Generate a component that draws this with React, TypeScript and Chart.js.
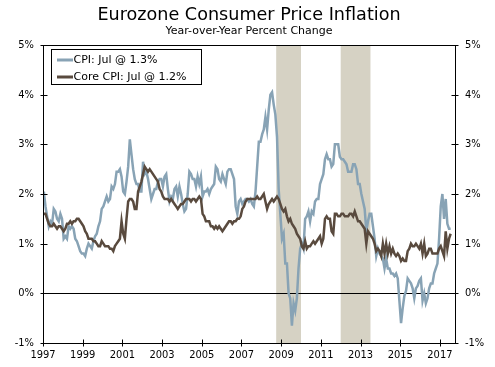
import { useEffect, useRef } from "react";
import { Chart, registerables } from "chart.js";

Chart.register(...registerables);

const TITLE = "Eurozone Consumer Price Inflation";
const SUBTITLE = "Year-over-Year Percent Change";
const CPI_LABEL = "CPI: Jul @ 1.3%";
const CORE_LABEL = "Core CPI: Jul @ 1.2%";

// monthly data, Jan 1997 .. Jul 2017
const START_YEAR = 1997;
const CPI = [
  2.05, 1.75, 1.55, 1.35, 1.45, 1.4, 1.7, 1.65, 1.5, 1.45, 1.6, 1.5,
  1.1, 1.15, 1.1, 1.35, 1.3, 1.35, 1.3, 1.1, 1.05, 0.95, 0.85, 0.8,
  0.8, 0.75, 0.9, 1.0, 0.95, 0.9, 1.05, 1.15, 1.2, 1.35, 1.45, 1.7,
  1.75, 1.85, 1.95, 1.85, 1.9, 2.15, 2.1, 2.2, 2.45, 2.45, 2.5, 2.35,
  2.05, 2.0, 2.25, 2.55, 3.1, 2.8, 2.5, 2.3, 2.2, 2.2, 2.05, 2.05,
  2.65, 2.4, 2.45, 2.3, 2.1, 1.9, 2.0, 2.1, 2.1, 2.25, 2.3, 2.3,
  2.15, 2.35, 2.4, 2.1, 1.85, 1.95, 1.9, 2.1, 2.15, 1.95, 2.15, 2.0,
  1.8, 1.65, 1.7, 2.0, 2.45, 2.4, 2.3, 2.3, 2.15, 2.35, 2.2, 2.35,
  1.95, 2.05, 2.05, 2.1, 2.0, 2.1, 2.15, 2.2, 2.55, 2.5, 2.3, 2.25,
  2.4, 2.3, 2.2, 2.45, 2.5, 2.5, 2.4, 2.3, 1.75, 1.6, 1.85, 1.9,
  1.8, 1.85, 1.9, 1.9, 1.85, 1.9, 1.8, 1.75, 2.05, 2.55, 3.05, 3.05,
  3.2, 3.3, 3.55, 3.3, 3.7, 4.0, 4.05, 3.8, 3.6, 3.15, 2.1, 1.6,
  1.1, 1.2, 0.6, 0.6, 0.0, -0.1, -0.65, -0.2, -0.35, -0.1, 0.5, 0.9,
  1.0, 0.9, 1.5, 1.55, 1.65, 1.45, 1.65, 1.6, 1.85, 1.9, 1.9, 2.2,
  2.3, 2.4, 2.7, 2.8, 2.7, 2.7, 2.55, 2.6, 3.0, 3.0, 3.0, 2.75,
  2.7, 2.7, 2.65, 2.6, 2.45, 2.45, 2.45, 2.6, 2.6, 2.5, 2.2, 2.2,
  2.0, 1.85, 1.7, 1.25, 1.45, 1.6, 1.6, 1.35, 1.1, 0.75, 0.9, 0.8,
  0.75, 0.7, 0.5, 0.7, 0.5, 0.5, 0.4, 0.4, 0.35, 0.4, 0.3, -0.15,
  -0.6, -0.3, -0.05, 0.05, 0.3, 0.25, 0.2, 0.1, -0.1, 0.1, 0.15, 0.25,
  0.3, -0.15, 0.0, -0.2, -0.1, 0.1, 0.2, 0.2, 0.4, 0.5, 0.6, 1.1,
  1.75, 2.0, 1.5, 1.9, 1.4, 1.3, 1.3,
];
const CORE = [
  1.6, 1.6, 1.5, 1.4, 1.35, 1.35, 1.4, 1.35, 1.3, 1.35, 1.35, 1.3,
  1.25, 1.3, 1.4, 1.4, 1.45, 1.4, 1.45, 1.45, 1.5, 1.5, 1.45, 1.4,
  1.35, 1.25, 1.2, 1.1, 1.1, 1.1, 1.05, 1.05, 1.0, 0.95, 0.95, 1.05,
  1.0, 0.95, 0.95, 0.95, 0.9, 0.9, 0.85, 0.95, 1.0, 1.05, 1.1, 1.45,
  1.2, 1.1, 1.5, 1.85, 1.9, 1.9, 1.85, 1.7, 1.7, 2.05, 2.15, 2.25,
  2.4, 2.55, 2.5, 2.45, 2.5, 2.45, 2.4, 2.35, 2.3, 2.25, 2.1, 2.05,
  1.95, 1.9, 1.9, 1.9, 1.85, 1.9, 1.85, 1.8, 1.75, 1.7, 1.75, 1.8,
  1.8, 1.85, 1.9, 1.9, 1.9, 1.85, 1.9, 1.9, 1.85, 1.9, 1.95, 1.9,
  1.6, 1.55, 1.45, 1.45, 1.45, 1.35, 1.35, 1.3, 1.35, 1.3, 1.35, 1.3,
  1.25, 1.3, 1.35, 1.4, 1.45, 1.45, 1.4, 1.45, 1.45, 1.5, 1.5, 1.55,
  1.7, 1.75, 1.85, 1.9, 1.9, 1.9, 1.9, 1.9, 1.9, 1.95, 1.9, 1.9,
  1.95, 2.0, 1.85, 1.7, 1.8, 1.85, 1.9, 1.85, 1.9, 1.95, 1.9, 1.8,
  1.7, 1.65, 1.7, 1.55, 1.45, 1.5, 1.4, 1.35, 1.3, 1.2, 1.15, 1.1,
  0.95, 0.9, 1.05, 0.9, 0.95, 0.95, 1.0, 1.05, 1.0, 1.05, 1.1, 1.15,
  1.0, 1.1, 1.5, 1.55, 1.5, 1.5, 1.25, 1.2, 1.6, 1.6, 1.55, 1.55,
  1.6, 1.6, 1.55, 1.55, 1.55, 1.6, 1.6, 1.55, 1.65, 1.55, 1.45, 1.45,
  1.4, 1.35, 1.3, 1.0, 1.25, 1.2, 1.15, 1.1, 1.0, 0.85, 0.9, 0.85,
  0.75, 1.0, 0.8, 1.0, 0.8, 0.95, 0.8, 0.9, 0.8, 0.75, 0.8, 0.75,
  0.65, 0.7, 0.65, 0.65, 0.85, 0.9, 1.0, 0.95, 0.95, 1.0, 0.95, 0.9,
  1.0, 0.8, 1.0, 0.75, 0.8, 0.9, 0.9, 0.8, 0.8, 0.8, 0.8, 0.9,
  0.95, 0.85, 0.75, 1.25, 0.9, 1.1, 1.2,
];

const X_TICKS = [1997, 1999, 2001, 2003, 2005, 2007, 2009, 2011, 2013, 2015, 2017];
const Y_TICKS = [-1, 0, 1, 2, 3, 4, 5];
const X_MIN = 1997;
const X_MAX = 2017.76;
const RECESSIONS: [number, number][] = [
  [2008.75, 2010.0],
  [2012.0, 2013.5],
];

const CPI_COLOR = "#88a3b5";
const CORE_COLOR = "#594a3e";
const SHADE_COLOR = "#d6d2c4";
const FONT = "'DejaVu Sans', sans-serif";
const TICK_FONT = "'DejaVu Sans Condensed', 'DejaVu Sans', sans-serif";

const toPoints = (vals: number[]) =>
  vals.map((v, i) => ({ x: START_YEAR + (i + 0.5) / 12, y: v }));

const decorPlugin = {
  id: "decor",
  beforeDatasetsDraw(chart: any) {
    const { ctx, chartArea: a, scales } = chart;
    const xs = scales.x;
    const ys = scales.y;
    ctx.save();
    ctx.fillStyle = SHADE_COLOR;
    for (const [s, e] of RECESSIONS) {
      const x0 = xs.getPixelForValue(s);
      const x1 = xs.getPixelForValue(e);
      ctx.fillRect(x0, a.top, x1 - x0, a.bottom - a.top);
    }
    const y0 = Math.round(ys.getPixelForValue(0)) + 0.5;
    ctx.strokeStyle = "#000";
    ctx.lineWidth = 1;
    ctx.beginPath();
    ctx.moveTo(a.left, y0);
    ctx.lineTo(a.right, y0);
    ctx.stroke();
    ctx.restore();
  },
  afterDatasetsDraw(chart: any) {
    const { ctx, chartArea: a, scales } = chart;
    const xs = scales.x;
    const ys = scales.y;
    ctx.save();
    ctx.strokeStyle = "#000";
    ctx.lineWidth = 1;
    const L = Math.round(a.left) + 0.5;
    const R = Math.round(a.right) + 0.5;
    const T = Math.round(a.top) + 0.5;
    const B = Math.round(a.bottom) + 0.5;
    ctx.beginPath();
    ctx.rect(L, T, R - L, B - T);
    ctx.stroke();
    ctx.beginPath();
    for (const v of Y_TICKS) {
      const y = Math.round(ys.getPixelForValue(v)) + 0.5;
      ctx.moveTo(L - 3, y);
      ctx.lineTo(L + 4, y);
      ctx.moveTo(R - 4, y);
      ctx.lineTo(R + 3, y);
    }
    for (const v of X_TICKS) {
      const x = Math.round(xs.getPixelForValue(v)) + 0.5;
      ctx.moveTo(x, B - 4);
      ctx.lineTo(x, B + 3);
    }
    ctx.stroke();

    // legend
    const lx = 51.5, ly = 49.5, lw = 150, lh = 35;
    ctx.fillStyle = "#fff";
    ctx.fillRect(lx, ly, lw, lh);
    ctx.strokeRect(lx, ly, lw, lh);
    const items: [string, string][] = [
      [CPI_LABEL, CPI_COLOR],
      [CORE_LABEL, CORE_COLOR],
    ];
    ctx.font = `11px ${FONT}`;
    ctx.textBaseline = "middle";
    ctx.textAlign = "left";
    items.forEach(([label, color], i) => {
      const cy = 60 + i * 17;
      ctx.strokeStyle = color;
      ctx.lineWidth = 3;
      ctx.beginPath();
      ctx.moveTo(57, cy);
      ctx.lineTo(73, cy);
      ctx.stroke();
      ctx.fillStyle = "#000";
      ctx.fillText(label, 73.5, cy);
    });

    // titles
    ctx.textAlign = "center";
    ctx.textBaseline = "alphabetic";
    ctx.fillStyle = "#000";
    ctx.font = `17.6px ${FONT}`;
    ctx.fillText(TITLE, 249, 19.5);
    ctx.font = `11px ${FONT}`;
    ctx.fillText(SUBTITLE, 249, 34);
    ctx.restore();
  },
};

export default function App() {
  const ref = useRef<HTMLCanvasElement | null>(null);
  useEffect(() => {
    if (!ref.current) return;
    const tickFont = { family: TICK_FONT, size: 11 };
    const chart = new Chart(ref.current, {
      type: "line",
      data: {
        datasets: [
          {
            label: CPI_LABEL,
            data: toPoints(CPI),
            borderColor: CPI_COLOR,
            borderWidth: 2.5,
            pointRadius: 0,
            tension: 0,
            order: 1,
            yAxisID: "y",
          },
          {
            label: CORE_LABEL,
            data: toPoints(CORE),
            borderColor: CORE_COLOR,
            borderWidth: 2.5,
            pointRadius: 0,
            tension: 0,
            order: 0,
            yAxisID: "y",
          },
        ],
      },
      options: {
        animation: false,
        responsive: false,
        devicePixelRatio: 1,
        events: [],
        layout: { padding: { top: 45, left: 0, right: 0, bottom: 0 } },
        plugins: {
          legend: { display: false },
          title: { display: false },
          tooltip: { enabled: false },
        },
        scales: {
          x: {
            type: "linear",
            min: X_MIN,
            max: X_MAX,
            afterBuildTicks: (s: any) => {
              s.ticks = X_TICKS.map((v) => ({ value: v }));
            },
            afterFit: (s: any) => {
              s.height = 24;
            },
            grid: { display: false, drawTicks: false },
            border: { display: false },
            ticks: {
              autoSkip: false,
              maxRotation: 0,
              padding: 6,
              color: "#000",
              font: tickFont,
              callback: (v: any) => String(v),
            },
          },
          y: {
            position: "left",
            min: -1,
            max: 5,
            afterBuildTicks: (s: any) => {
              s.ticks = Y_TICKS.map((v) => ({ value: v }));
            },
            afterFit: (s: any) => {
              s.width = 43;
            },
            grid: { display: false, drawTicks: false },
            border: { display: false },
            ticks: {
              padding: 9,
              color: "#000",
              font: tickFont,
              callback: (v: any) => `${v}%`,
            },
          },
          y2: {
            position: "right",
            min: -1,
            max: 5,
            afterBuildTicks: (s: any) => {
              s.ticks = Y_TICKS.map((v) => ({ value: v }));
            },
            afterFit: (s: any) => {
              s.width = 40;
            },
            grid: { display: false, drawTicks: false },
            border: { display: false },
            ticks: {
              padding: 10,
              color: "#000",
              font: tickFont,
              callback: (v: any) => `${v}%`,
            },
          },
        },
      },
      plugins: [decorPlugin],
    });
    return () => chart.destroy();
  }, []);
  return (
    <div style={{ position: "absolute", left: 0, top: 0, width: 495, height: 367 }}>
      <canvas ref={ref} width={495} height={367} style={{ display: "block", width: 495, height: 367 }} />
    </div>
  );
}
